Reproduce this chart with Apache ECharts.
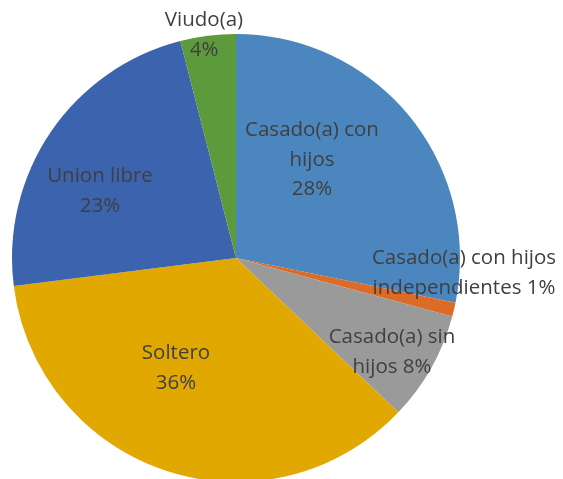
<!DOCTYPE html>
<html lang="es">
<head>
<meta charset="UTF-8">
<title>Estado civil</title>
<script src="https://cdn.jsdelivr.net/npm/echarts@6/dist/echarts.min.js"></script>
<style>
html, body { margin: 0; padding: 0; background: #fff; }
#main { width: 563px; height: 479px; }
</style>
</head>
<body>
<div id="main"></div>
<script>
// datos (porcentajes estimados del grafico)
var categorias = ['Casado(a) con hijos', 'Casado(a) con hijos independientes', 'Casado(a) sin hijos', 'Soltero', 'Union libre', 'Viudo(a)'];
var valores = [28.2, 1.0, 7.9, 35.9, 23.0, 4.0];
var colores = ['#4c86bf', '#db6b27', '#9a9a9a', '#e0a800', '#3c63ad', '#5c9a3c'];
// texto de cada etiqueta (saltos de linea como en el original)
var etiquetas = ['Casado(a) con\nhijos\n28%', 'Casado(a) con hijos\nindependientes 1%', 'Casado(a) sin\nhijos 8%', 'Soltero\n36%', 'Union libre\n23%', 'Viudo(a)\n4%'];
// posicion del centro de cada etiqueta
var posEtiquetas = [[312, 160], [464, 273], [392, 352], [176, 368], [100, 191], [204, 35]];

var myChart = echarts.init(document.getElementById('main'));

var datos = categorias.map(function (c, i) {
    return { name: c, value: valores[i], itemStyle: { color: colores[i] } };
});

myChart.setOption({
    animation: false,
    series: [{
        type: 'pie',
        center: [236, 258],
        radius: 224,
        startAngle: 90,
        clockwise: true,
        data: datos,
        label: {
            show: true,
            position: 'inside',
            formatter: function (p) { return etiquetas[p.dataIndex]; },
            fontFamily: 'Open Sans',
            fontSize: 20.5,
            lineHeight: 29.5,
            color: '#3f3f3f',
            align: 'center'
        },
        labelLine: { show: false },
        labelLayout: function (p) {
            var q = posEtiquetas[p.dataIndex];
            return { x: q[0], y: q[1], align: 'center', verticalAlign: 'middle' };
        },
        emphasis: { disabled: true }
    }]
});
</script>
</body>
</html>
